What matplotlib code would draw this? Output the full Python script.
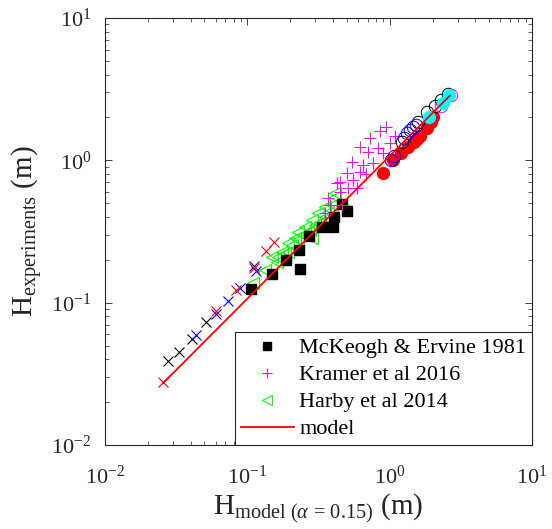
import numpy as np
import matplotlib
matplotlib.use("Agg")
import matplotlib.pyplot as plt

plt.rcParams['font.family'] = ['Liberation Serif', 'DejaVu Serif']
plt.rcParams['mathtext.fontset'] = 'custom'
plt.rcParams['mathtext.rm'] = 'Liberation Serif'
plt.rcParams['mathtext.it'] = 'Liberation Serif:italic'

# McKeogh & Ervine 1981
mck_x = [0.106, 0.150, 0.188, 0.234, 0.232, 0.273, 0.335, 0.402, 0.406, 0.466, 0.500]
mck_y = [0.1256, 0.159, 0.199, 0.1714, 0.234, 0.296, 0.341, 0.341, 0.400, 0.493, 0.444]

# Kramer et al 2016
kra_x = [0.944, 0.857, 0.728, 1.091, 1.007, 0.828, 0.619, 0.705, 0.900, 0.764, 0.650,
         0.545, 0.619, 0.683, 0.502, 0.553, 0.448, 0.511, 0.590, 0.448, 0.369, 0.381,
         0.462, 0.352, 0.426]
kra_y = [1.714, 1.607, 1.435, 1.482, 1.323, 1.220, 1.240, 1.143, 1.125, 0.957, 0.927,
         0.973, 0.828, 0.801, 0.815, 0.727, 0.704, 0.639, 0.639, 0.598, 0.543, 0.485,
         0.485, 0.426, 0.692]

# Harby et al 2014
har_x = [0.110, 0.133, 0.149, 0.162, 0.164, 0.175, 0.184, 0.193, 0.193, 0.206, 0.216,
         0.227, 0.227, 0.246, 0.254, 0.267, 0.276, 0.285, 0.285, 0.299, 0.314, 0.324,
         0.352, 0.352, 0.369, 0.394, 0.413, 0.413]
har_y = [0.137, 0.169, 0.209, 0.193, 0.209, 0.227, 0.223, 0.227, 0.262, 0.254, 0.284,
         0.275, 0.313, 0.299, 0.340, 0.313, 0.324, 0.284, 0.380, 0.351, 0.426, 0.368,
         0.400, 0.470, 0.434, 0.485, 0.552, 0.589]

# other series (no legend entry)
kx_x = [0.0277, 0.0331, 0.0408, 0.0513]
kx_y = [0.0389, 0.0450, 0.0555, 0.0731]
bx_x = [0.0433, 0.0599, 0.0731, 0.0889, 0.115, 0.1114]
bx_y = [0.0592, 0.0832, 0.1026, 0.1267, 0.1667, 0.1806]
rx_x = [0.0254, 0.060, 0.0834, 0.1114, 0.1346, 0.154]
rx_y = [0.0277, 0.0877, 0.1236, 0.175, 0.2306, 0.268]

ko_x = [1.222, 1.585, 1.832, 2.069, 2.296, 2.572]
ko_y = [1.345, 1.858, 2.183, 2.41, 2.655, 2.944]
bo_x = [1.023, 1.074, 1.262, 1.325, 1.391, 1.459, 1.533]
bo_y = [1.005, 1.072, 1.436, 1.556, 1.633, 1.714, 1.771]
mo_x = [2.296, 2.699]
mo_y = [2.41, 2.877]
rf_x = [0.900, 1.057, 1.202, 1.346, 1.484, 1.559, 1.636, 1.832, 1.955, 2.018]
rf_y = [0.815, 1.005, 1.125, 1.240, 1.345, 1.413, 1.484, 1.687, 1.858, 2.013]
cf_x = [1.892, 2.372, 2.614]
cf_y = [2.013, 2.528, 2.877]

model_x = [0.0256, 2.65]
model_y = [0.0272, 2.85]

fig = plt.figure(figsize=(5.52, 5.29), dpi=100)
ax = fig.add_axes([0.1902, 0.1588, 0.7736, 0.8072])

ax.plot(kx_x, kx_y, 'x', color='k', ms=7, mew=0.8)
ax.plot(bx_x, bx_y, 'x', color='b', ms=7, mew=0.8)
ax.plot(rx_x, rx_y, 'x', color='r', ms=7, mew=0.8)
ax.plot(har_x, har_y, '<', mfc='none', mec=(0, 1, 0), ms=9, mew=0.8,
        label='Harby et al 2014')
ax.plot(mck_x, mck_y, 's', color='k', ms=6.5, label='McKeogh & Ervine 1981')
ax.plot(kra_x, kra_y, '+', color=(1, 0, 1), ms=9, mew=0.8, label='Kramer et al 2016')
ax.plot(rf_x, rf_y, 'o', color='r', ms=8.5)
ax.plot(bo_x, bo_y, 'o', mfc='none', mec='b', ms=9, mew=0.7)
ax.plot(ko_x, ko_y, 'o', mfc='none', mec='k', ms=9, mew=0.7)
ax.plot(mo_x, mo_y, 'o', mfc='none', mec=(1, 0, 1), ms=9, mew=0.7)
ax.plot(cf_x, cf_y, 'o', color=(0, 1, 1), ms=8.5)
ax.plot(model_x, model_y, '-', color='r', lw=1.3, label='model')

ax.set_xscale('log')
ax.set_yscale('log')
ax.set_xlim(1e-2, 1e1)
ax.set_ylim(1e-2, 1e1)

ax.tick_params(which='both', direction='in', top=True, right=True,
               labelsize=16, colors='#262626')
ax.tick_params(axis='x', which='major', pad=15)
ax.tick_params(axis='y', which='major', pad=10)
ax.tick_params(which='major', length=5, width=0.6)
ax.tick_params(which='minor', length=3, width=0.5)
for s in ax.spines.values():
    s.set_color('#262626')
    s.set_linewidth(0.8)

ax.set_xlabel(r'H$_{\mathrm{model}\ (\alpha\,=\,0.15)}$ (m)', fontsize=21,
              color='#262626', labelpad=2)
ax.set_ylabel(r'H$_{\mathrm{experiments}}$ (m)', fontsize=21, color='#262626',
              labelpad=4)

handles, labels = ax.get_legend_handles_labels()
order = [labels.index(l) for l in ['McKeogh & Ervine 1981', 'Kramer et al 2016',
                                   'Harby et al 2014', 'model']]
leg = ax.legend([handles[i] for i in order], [labels[i] for i in order],
                loc='lower right', borderaxespad=0, fontsize=16, fancybox=False,
                edgecolor='#262626', framealpha=1, handlelength=2.4,
                handletextpad=0.25, labelspacing=0.29, borderpad=0.25,
                markerscale=0.8)
leg.get_frame().set_linewidth(0.8)

fig.savefig('out.png', dpi=100)
